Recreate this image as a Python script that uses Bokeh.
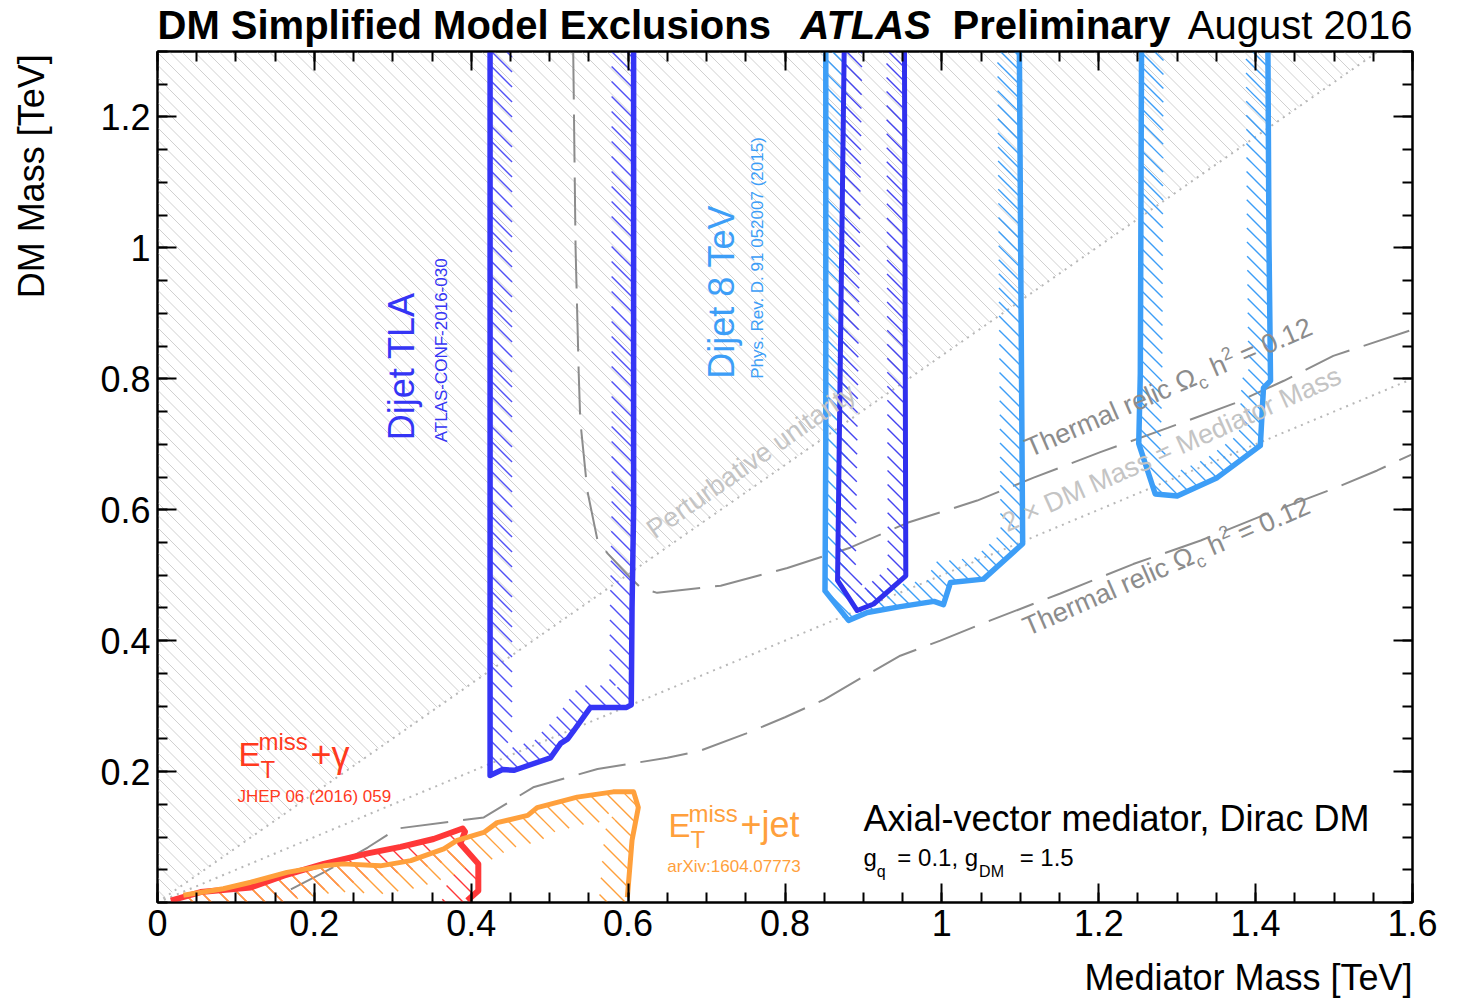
import math
from bokeh.plotting import figure
from bokeh.layouts import column, row
from bokeh.models import Range1d, FixedTicker, LinearAxis, Label, NumeralTickFormatter
from bokeh.embed import file_html
from bokeh.resources import INLINE

# ---------------- data (TeV) ----------------
x_major = [0.0, 0.2, 0.4, 0.6, 0.8, 1.0, 1.2, 1.4, 1.6]
x_minor = [round(0.05 * i, 2) for i in range(33)]
y_major = [0.2, 0.4, 0.6, 0.8, 1.0, 1.2]
y_minor = [round(0.05 * i, 2) for i in range(27)]

# perturbative unitarity boundary and 2*mDM = mMed line
unit_x = [0.0, 1.556]
unit_y = [0.0, 1.3]
half_x = [0.0, 1.6]
half_y = [0.0, 0.8]

# thermal relic curves
relic_up_x = [0.530, 0.533, 0.537, 0.539, 0.548, 0.561, 0.574, 0.603, 0.616, 0.637, 0.718, 0.803,
              0.883, 0.956, 1.045, 1.117, 1.202, 1.288, 1.372, 1.436, 1.499, 1.600]
relic_up_y = [1.300, 1.000, 0.809, 0.736, 0.629, 0.553, 0.533, 0.496, 0.481, 0.473, 0.484, 0.511,
              0.542, 0.580, 0.614, 0.649, 0.688, 0.725, 0.762, 0.797, 0.835, 0.875]
relic_lo_x = [0.170, 0.212, 0.268, 0.306, 0.416, 0.479, 0.561, 0.650, 0.692, 0.750, 0.800, 0.850,
              0.900, 0.947, 0.998, 1.062, 1.151, 1.244, 1.330, 1.415, 1.499, 1.555, 1.600]
relic_lo_y = [0.020, 0.046, 0.084, 0.113, 0.130, 0.176, 0.204, 0.221, 0.232, 0.258, 0.283, 0.310,
              0.345, 0.377, 0.400, 0.431, 0.472, 0.517, 0.553, 0.594, 0.632, 0.660, 0.685]

# exclusion contours
tla_x = [0.424, 0.424, 0.440, 0.455, 0.501, 0.514, 0.523, 0.531, 0.552, 0.598, 0.604, 0.605, 0.607, 0.607]
tla_y = [1.45, 0.194, 0.203, 0.202, 0.221, 0.243, 0.250, 0.263, 0.298, 0.298, 0.302, 0.450, 0.600, 1.45]

dj8_a_x = [0.852, 0.852, 0.851, 0.881, 0.905, 0.947, 0.990, 1.002, 1.011, 1.053, 1.103, 1.101, 1.098]
dj8_a_y = [1.45, 0.700, 0.476, 0.431, 0.443, 0.452, 0.460, 0.455, 0.489, 0.494, 0.548, 0.900, 1.45]

dj8_b_x = [0.877, 0.867, 0.892, 0.913, 0.954, 0.952]
dj8_b_y = [1.45, 0.492, 0.446, 0.456, 0.499, 1.45]

dj8_c_x = [1.255, 1.253, 1.251, 1.272, 1.300, 1.351, 1.406, 1.410, 1.419, 1.417, 1.415]
dj8_c_y = [1.45, 0.808, 0.701, 0.624, 0.621, 0.649, 0.698, 0.786, 0.797, 1.011, 1.45]

mgam_x = [0.017, 0.055, 0.119, 0.161, 0.212, 0.268, 0.310, 0.352, 0.389, 0.392, 0.386, 0.409, 0.409, 0.395]
mgam_y = [0.003, 0.016, 0.023, 0.041, 0.059, 0.075, 0.085, 0.097, 0.113, 0.108, 0.090, 0.059, 0.018, 0.003]

mjet_x = [0.033, 0.084, 0.119, 0.165, 0.212, 0.237, 0.284, 0.323, 0.365, 0.382, 0.416, 0.433, 0.472,
          0.484, 0.535, 0.581, 0.607, 0.613, 0.605, 0.599]
mjet_y = [0.011, 0.021, 0.031, 0.046, 0.056, 0.059, 0.056, 0.064, 0.082, 0.095, 0.107, 0.122, 0.133,
          0.145, 0.161, 0.169, 0.169, 0.145, 0.095, 0.008]

# ---------------- style ----------------
FONT = "Liberation Sans"
BLUE = "#3535f5"
LBLUE = "#3d9ef7"
RED = "#ff3838"
RED_T = "#ff3a1e"
ORANGE = "#ffa03c"
GRAY = "#8c8c8c"
LGRAY = "#c4c4c4"
BASE_K = 0.38   # shift that puts Bokeh's label anchor on the alphabetic baseline

TOTAL_W = 1460
TITLE_H = 49
YLAB_W = 60
BL, BR, BT, BB = 97, 48, 2, 54
MAIN_W, MAIN_H = TOTAL_W - YLAB_W, 2 + 851 + 54
XLAB_H = 999 - TITLE_H - MAIN_H
XMAX, YMAX = 1.6, 1.3
SX = (MAIN_W - BL - BR) / XMAX
SY = (MAIN_H - BT - BB) / YMAX

p = figure(width=MAIN_W, height=MAIN_H, x_range=Range1d(0, XMAX), y_range=Range1d(0, YMAX),
           output_backend="svg", toolbar_location=None,
           min_border_left=BL, min_border_right=BR, min_border_top=BT, min_border_bottom=BB,
           x_axis_type=None, y_axis_type=None)
p.grid.visible = False
p.outline_line_color = "black"
p.outline_line_width = 2
p.background_fill_color = "white"
p.border_fill_color = "white"


def make_axis(major, minor, labels):
    ax = LinearAxis(ticker=FixedTicker(ticks=major, minor_ticks=minor))
    ax.major_tick_in = 19
    ax.major_tick_out = 0
    ax.minor_tick_in = 10
    ax.minor_tick_out = 0
    ax.major_tick_line_width = 2
    ax.minor_tick_line_width = 2
    ax.axis_line_width = 2
    ax.major_tick_line_color = "black"
    ax.minor_tick_line_color = "black"
    ax.axis_line_color = "black"
    if labels:
        ax.formatter = NumeralTickFormatter(format="0.[0]")
        ax.major_label_text_font = FONT
        ax.major_label_text_font_size = "36px"
        ax.major_label_text_color = "black"
        ax.major_label_standoff = 7
    else:
        ax.major_label_text_font_size = "0px"
        ax.major_label_text_color = None
        ax.major_label_standoff = 0
    return ax


p.add_layout(make_axis(x_major, x_minor, True), "below")
p.add_layout(make_axis(y_major, y_minor, True), "left")
p.add_layout(make_axis(x_major, x_minor, False), "above")
p.add_layout(make_axis(y_major, y_minor, False), "right")


# ---------- helpers for ROOT-like hatched bands ----------
def lnorm(a, b):
    dx, dy = b[0] - a[0], b[1] - a[1]
    L = math.hypot(dx, dy) or 1.0
    return (-dy / L, dx / L)


def inset(xs, ys, d):
    P = [(x * SX, y * SY) for x, y in zip(xs, ys)]
    n = len(P)
    area = sum(P[i][0] * P[(i + 1) % n][1] - P[(i + 1) % n][0] * P[i][1] for i in range(n))
    s = 1.0 if area > 0 else -1.0
    ox, oy = [], []
    for i in range(n):
        a, b, c = P[i - 1], P[i], P[(i + 1) % n]
        n1, n2 = lnorm(a, b), lnorm(b, c)
        mx, my = n1[0] + n2[0], n1[1] + n2[1]
        ml = math.hypot(mx, my)
        if ml < 1e-6:
            mx, my, k = n1[0], n1[1], 1.0
        else:
            mx, my = mx / ml, my / ml
            k = 1.0 / max(mx * n1[0] + my * n1[1], 0.5)
        ox.append((b[0] + s * d * k * mx) / SX)
        oy.append((b[1] + s * d * k * my) / SY)
    return ox, oy


def hatch(rings, spacing, color, width=1.0):
    edges = []
    allc = []
    for xs, ys in rings:
        P = [(x * SX, y * SY) for x, y in zip(xs, ys)]
        for i in range(len(P)):
            a, b = P[i], P[(i + 1) % len(P)]
            edges.append((a, b))
            allc.append(a[0] + a[1])
    c = math.ceil(min(allc) / spacing) * spacing
    seg_x, seg_y = [], []
    while c <= max(allc):
        pts = []
        for a, b in edges:
            fa, fb = a[0] + a[1] - c, b[0] + b[1] - c
            if (fa < 0 <= fb) or (fb < 0 <= fa):
                t = fa / (fa - fb)
                pts.append((a[0] + t * (b[0] - a[0]), a[1] + t * (b[1] - a[1])))
        pts.sort()
        for i in range(0, len(pts) - 1, 2):
            (x0, y0), (x1, y1) = pts[i], pts[i + 1]
            seg_x.append([x0 / SX, x1 / SX])
            seg_y.append([y0 / SY, y1 / SY])
        c += spacing
    p.multi_line(seg_x, seg_y, line_color=color, line_width=width)


def band(xs, ys, d, color, spacing):
    hx, hy = inset(xs, ys, d)
    hatch([(list(xs), list(ys)), (hx, hy)], spacing, color, width=1.4)


# perturbative unitarity excluded region (grey hatch)
hatch([([unit_x[0], unit_x[1], unit_x[0]], [unit_y[0], unit_y[1], unit_y[1]])], 12.5, "#d0d0d0")
p.line(unit_x, unit_y, line_color="#b8b8b8", line_width=2, line_dash="2 5")
p.line(half_x, half_y, line_color="#b8b8b8", line_width=2, line_dash="2 5")

# thermal relic
p.line(relic_up_x, relic_up_y, line_color=GRAY, line_width=2, line_dash="48 15")
p.line(relic_lo_x, relic_lo_y, line_color=GRAY, line_width=2, line_dash="48 15")

# hatched bands inside exclusion contours
band(tla_x, tla_y, 22, "#5050f5", 15)
band(dj8_a_x, dj8_a_y, 22, LBLUE, 14)
band(dj8_b_x, dj8_b_y, 18, "#4545f0", 14)
band(dj8_c_x, dj8_c_y, 22, LBLUE, 14)
band(mgam_x + [mgam_x[-1], mgam_x[0] - 0.1], mgam_y + [-0.15, -0.15], 25, RED, 18)
band(mjet_x + [mjet_x[-1], mjet_x[0] - 0.1], mjet_y + [-0.15, -0.15], 28, ORANGE, 18)

# contour lines
p.line(mgam_x, mgam_y, line_color=RED, line_width=6, line_join="round")
p.line(mjet_x, mjet_y, line_color=ORANGE, line_width=5, line_join="round")
p.line(tla_x, tla_y, line_color=BLUE, line_width=5.5, line_join="round")
p.line(dj8_a_x, dj8_a_y, line_color=LBLUE, line_width=5.5, line_join="round")
p.line(dj8_c_x, dj8_c_y, line_color=LBLUE, line_width=5.5, line_join="round")
p.line(dj8_b_x, dj8_b_y, line_color="#3030ee", line_width=5, line_join="round")

# ---------------- texts ----------------
AW = {'T': 611, 'h': 556, 'e': 556, 'r': 333, 'm': 833, 'a': 556, 'l': 222, ' ': 278, 'i': 222,
      'c': 500, 'Ω': 768, '2': 556, '=': 584, '0': 556, '.': 278, '1': 556, ',': 278,
      'D': 722, 'M': 833, 'g': 556, 'q': 556, '5': 556}


def tw(s, size):
    return sum(AW.get(ch, 556) for ch in s) * size / 1000.0


def put(fig, x, y, text, size, color, style="normal", angle=0.0, align="left", sx=1.0, sy=1.0):
    a = math.radians(angle)
    sh = BASE_K * size
    fig.add_layout(Label(x=x - sh * math.sin(a) / sx, y=y + sh * math.cos(a) / sy, text=text,
                         text_font=FONT, text_font_size=f"{size}px",
                         text_color=color, text_font_style=style, angle=angle, angle_units="deg",
                         text_align=align, text_baseline="alphabetic"))


def putm(x, y, text, size, color, angle=0.0, align="left"):
    put(p, x, y, text, size, color, angle=angle, align=align, sx=SX, sy=SY)


def put_runs(x0, y0, deg, runs, color):
    a = math.radians(deg)
    off = 0.0
    for text, size, shift, gap in runs:
        lead = len(text) - len(text.lstrip(" "))
        off += lead * AW[" "] * size / 1000.0
        t = text.lstrip(" ")
        dxp = off * math.cos(a) - shift * math.sin(a)
        dyp = off * math.sin(a) + shift * math.cos(a)
        putm(x0 + dxp / SX, y0 + dyp / SY, t, size, color, angle=deg)
        off += tw(t, size) + gap


# analysis labels (inside the frame)
putm(0.329, 0.706, "Dijet TLA", 36, BLUE, angle=90)
putm(0.370, 0.703, "ATLAS-CONF-2016-030", 17, BLUE, angle=90)
putm(0.737, 0.800, "Dijet 8 TeV", 36, LBLUE, angle=90)
putm(0.7726, 0.800, "Phys. Rev. D. 91 052007 (2015)", 17, LBLUE, angle=90)

putm(0.1033, 0.2062, "E", 33, RED_T)
putm(0.1288, 0.2322, "miss", 24, RED_T)
putm(0.1313, 0.1894, "T", 24, RED_T)
putm(0.195, 0.2047, "+γ", 36, RED_T)
putm(0.102, 0.1528, "JHEP 06 (2016) 059", 17, RED_T)

putm(0.6515, 0.0978, "E", 33, ORANGE)
putm(0.677, 0.1222, "miss", 24, ORANGE)
putm(0.6795, 0.0825, "T", 24, ORANGE)
putm(0.7432, 0.0978, "+jet", 36, ORANGE)
putm(0.650, 0.0458, "arXiv:1604.07773", 17, ORANGE)

putm(0.900, 0.1069, "Axial-vector mediator, Dirac DM", 36, "black")
put_runs(0.900, 0.055, 0.0, [("g", 24, 0, 0), ("q", 16, -11, 5), (" = 0.1, g", 24, 0, 1),
                             ("DM", 16, -11, 9), (" = 1.5", 24, 0, 0)], "black")

putm(0.635, 0.553, "Perturbative unitarity", 27, LGRAY, angle=35)
putm(1.084, 0.564, "2 × DM Mass = Mediator Mass", 27, LGRAY, angle=24)

relic_runs = [("Thermal relic Ω", 27, 0, 0), ("c", 18, -6, 1), (" h", 27, 0, 0), ("2", 18, 12, 0),
              (" = 0.12", 27, 0, 0)]
put_runs(1.113, 0.678, 23.5, relic_runs, GRAY)
put_runs(1.110, 0.405, 23.5, relic_runs, GRAY)


# ---------------- text strips around the main plot ----------------
def strip(w, h):
    f = figure(width=w, height=h, x_range=Range1d(0, w), y_range=Range1d(0, h),
               output_backend="svg", toolbar_location=None, x_axis_type=None, y_axis_type=None,
               min_border_left=0, min_border_right=0, min_border_top=0, min_border_bottom=0)
    f.grid.visible = False
    f.outline_line_color = None
    f.background_fill_color = "white"
    f.border_fill_color = "white"
    return f


title_fig = strip(TOTAL_W, TITLE_H)
put(title_fig, 157, 9, "DM Simplified Model Exclusions", 40, "black", style="bold")
put(title_fig, 800, 9, "ATLAS", 40, "black", style="bold italic")
put(title_fig, 952, 9, "Preliminary", 40, "black", style="bold")
put(title_fig, 1412, 9, "August 2016", 40, "black", align="right")

ylab_fig = strip(YLAB_W, MAIN_H)
put(ylab_fig, 45, MAIN_H - 3, "DM Mass [TeV]", 36, "black", angle=90, align="right")

xlab_fig = strip(TOTAL_W, XLAB_H)
put(xlab_fig, 1412, 8.5, "Mediator Mass [TeV]", 36, "black", align="right")

layout = column(title_fig, row(ylab_fig, p, spacing=0), xlab_fig, spacing=0)

open("out.html", "w").write(file_html(layout, INLINE))
